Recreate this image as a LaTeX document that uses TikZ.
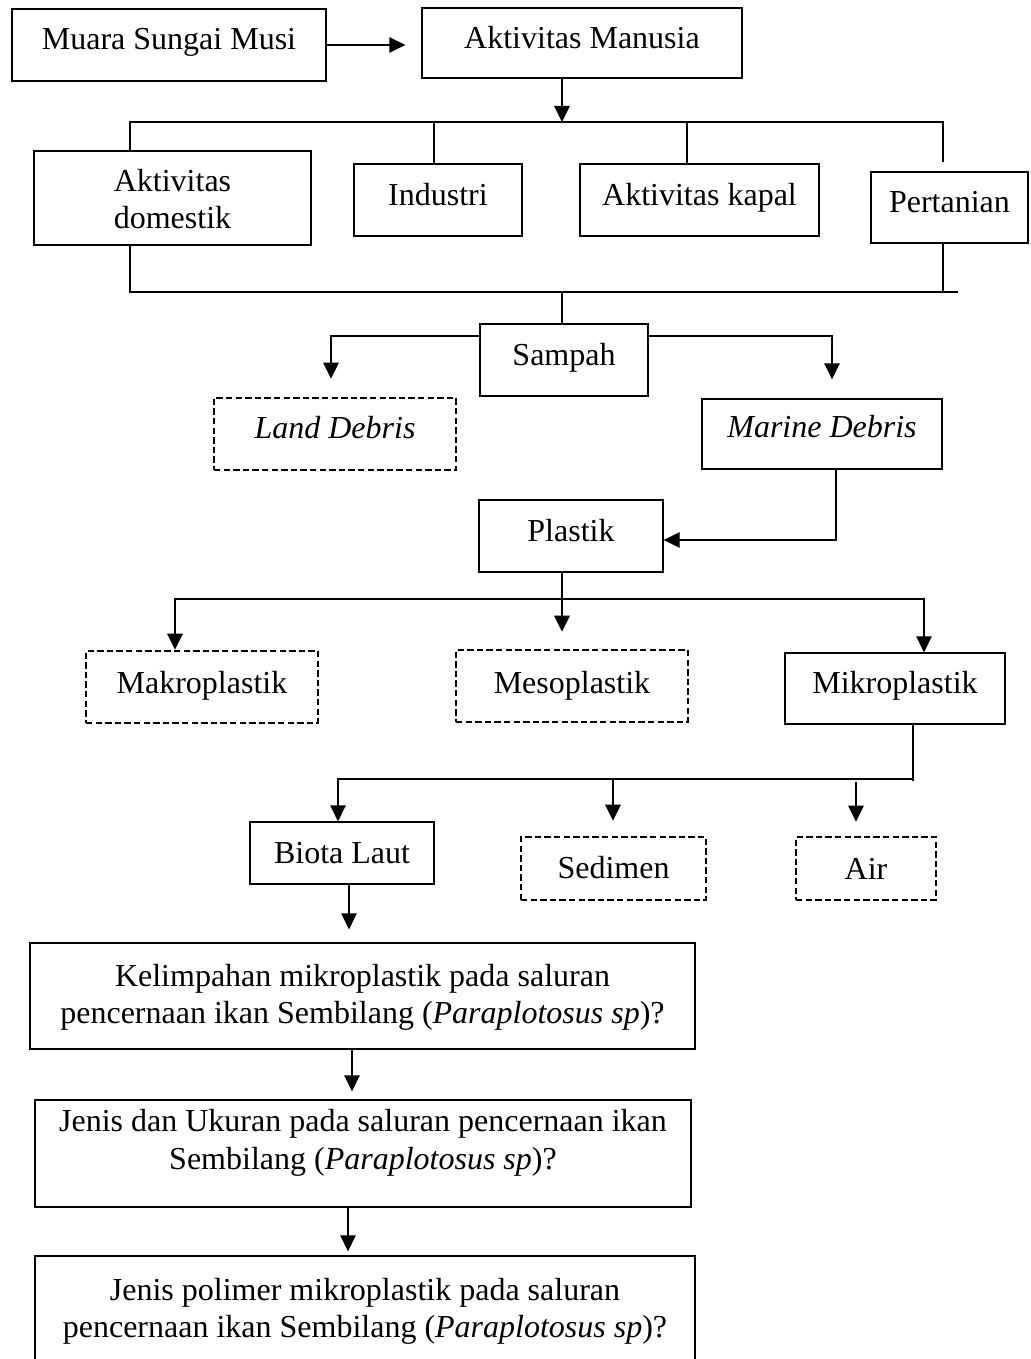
\documentclass[tikz,border=0pt]{standalone}
\usepackage{fontspec}
\setmainfont{Liberation Serif}
\usetikzlibrary{arrows.meta}
\tikzset{
  box/.style={draw=black, line width=0.5pt, inner sep=0pt, rectangle, text height=8.5pt},
  mbox/.style={draw=black, line width=0.5pt, inner sep=0pt, rectangle},
  dbox/.style={box, line width=0.95pt, dash pattern=on 2.4pt off 1.2pt},
  ln/.style={line width=0.5pt, draw=black},
  arr/.style={ln, -{Triangle[length=6pt,width=5.8pt]}}
}
\begin{document}
\begin{tikzpicture}[x=0.375pt,y=-0.375pt, font=\fontsize{12}{14}\selectfont]
\useasboundingbox (0,0) rectangle (1030,1359);
\clip (0,0) rectangle (1030,1359);

% boxes
\node[box, minimum width=117.75pt, minimum height=27pt, text depth=4.75pt] (muara) at (169,45) {Muara Sungai Musi};
\node[box, minimum width=120pt, minimum height=26.25pt, text depth=4pt] (manusia) at (582,43) {Aktivitas Manusia};
\node[mbox, minimum width=103.875pt, minimum height=35.25pt] (domestik) at (172.5,198)
  {\begin{tabular}{@{}c@{}}\rule{0pt}{13.2pt}Aktivitas\\domestik\end{tabular}};
\node[box, minimum width=63pt, minimum height=27pt, text depth=4.75pt] (industri) at (438,200) {Industri};
\node[box, minimum width=89.625pt, minimum height=27pt, text depth=4pt] (kapal) at (699.5,200) {Aktivitas kapal};
\node[box, minimum width=58.875pt, minimum height=26.625pt, text depth=5.125pt] (pertanian) at (949.5,207.5) {Pertanian};
\node[box, minimum width=63pt, minimum height=27pt, text depth=4.75pt] (sampah) at (564,360) {Sampah};
\node[dbox, minimum width=90.75pt, minimum height=27pt, text depth=5.5pt] (land) at (335,434) {\textit{Land Debris}};
\node[box, minimum width=90pt, minimum height=26.25pt, text depth=6.25pt] (marine) at (822,434) {\textit{Marine Debris}};
\node[box, minimum width=69pt, minimum height=27pt, text depth=4.75pt] (plastik) at (571,536) {Plastik};
\node[dbox, minimum width=87pt, minimum height=27pt, text depth=4pt] (makro) at (202,687) {Makroplastik};
\node[dbox, minimum width=87pt, minimum height=27pt, text depth=3.25pt] (meso) at (572,686) {Mesoplastik};
\node[box, minimum width=82.5pt, minimum height=26.625pt, text depth=5.125pt] (mikro) at (895,688.5) {Mikroplastik};
\node[box, minimum width=69pt, minimum height=23.25pt, text depth=1pt] (biota) at (342,853) {Biota Laut};
\node[dbox, minimum width=69.375pt, minimum height=23.625pt, text depth=1.375pt] (sedimen) at (613.5,868.5) {Sedimen};
\node[dbox, minimum width=52.5pt, minimum height=23.625pt, text depth=0.625pt] (air) at (866,868.5) {Air};
\node[mbox, minimum width=249.375pt, minimum height=39.75pt] (kelim) at (362.5,996)
  {\begin{tabular}{@{}c@{}}\rule{0pt}{11pt}Kelimpahan mikroplastik pada saluran\\pencernaan ikan Sembilang (\textit{Paraplotosus sp})?\end{tabular}};
\node[mbox, minimum width=246pt, minimum height=40.125pt] (jenis) at (363,1153.5)
  {\begin{tabular}{@{}c@{}}Jenis dan Ukuran pada saluran pencernaan ikan\\Sembilang (\textit{Paraplotosus sp})?\\[7.8pt]\end{tabular}};
\node[mbox, minimum width=247.5pt, minimum height=41.625pt] (polimer) at (365,1311.5)
  {\begin{tabular}{@{}c@{}}Jenis polimer mikroplastik pada saluran\\pencernaan ikan Sembilang (\textit{Paraplotosus sp})?\end{tabular}};

% junction coordinates
\coordinate (m1) at (562,122);
\coordinate (b1l) at (130,122);
\coordinate (b1r) at (943,122);
\coordinate (i1) at (434,122);
\coordinate (k1) at (687,122);
\coordinate (b2l) at (130,292);
\coordinate (b2r) at (958,292);
\coordinate (s1) at (562,292);
\coordinate (sl) at (331,336);
\coordinate (sr) at (832,336);
\coordinate (mp) at (836,540);
\coordinate (p1) at (562,599);
\coordinate (mk) at (175,599);
\coordinate (mi) at (924,599);
\coordinate (q1) at (913,779);
\coordinate (q2) at (338,779);
\coordinate (q3) at (613,779);
\coordinate (q4) at (856,782);
\coordinate (r1) at (349,900);
\coordinate (r2) at (352,1000);
\coordinate (r3) at (348,1200);

% connectors
\draw[arr, shorten >=6pt] (muara.east) -- (muara.east -| manusia.west);
\draw[arr] (manusia.south -| m1) -- (m1);
\draw[ln] (domestik.north -| b1l) -- (b1l) -- (b1r) -- ++(0,40);
\draw[ln] (i1) -- (industri.north -| i1);
\draw[ln] (k1) -- (kapal.north -| k1);
\draw[ln] (domestik.south -| b2l) -- (b2l) -- (b2r);
\draw[ln] (pertanian.south -| b1r) -- (b1r |- b2l);
\draw[ln] (s1) -- (sampah.north -| s1);
\draw[arr, shorten >=6.75pt] (sampah.west |- sl) -| (land.north -| sl);
\draw[arr, shorten >=7.125pt] (sampah.east |- sr) -| (marine.north -| sr);
\draw[arr] (marine.south -| mp) |- (plastik.east |- mp);
\draw[arr, shorten >=6.375pt] (plastik.south -| p1) -- (meso.north -| p1);
\draw[arr] (p1) -- (mk) -- (makro.north -| mk);
\draw[arr] (p1) -- (mi) -- (mikro.north -| mi);
\draw[ln] (mikro.south -| q1) -- ([yshift=-0.75pt]q1);
\draw[arr] (q1) -- (q2) -- (biota.north -| q2);
\draw[arr, shorten >=5.625pt] (q3) -- (sedimen.north -| q3);
\draw[arr, shorten >=5.25pt] (q4) -- (air.north -| q4);
\draw[arr, shorten >=4.875pt] (biota.south -| r1) -- (kelim.north -| r1);
\draw[arr, shorten >=3pt] (kelim.south -| r2) -- (jenis.north -| r2);
\draw[arr, shorten >=1.5pt] (jenis.south -| r3) -- (polimer.north -| r3);
\end{tikzpicture}
\end{document}
